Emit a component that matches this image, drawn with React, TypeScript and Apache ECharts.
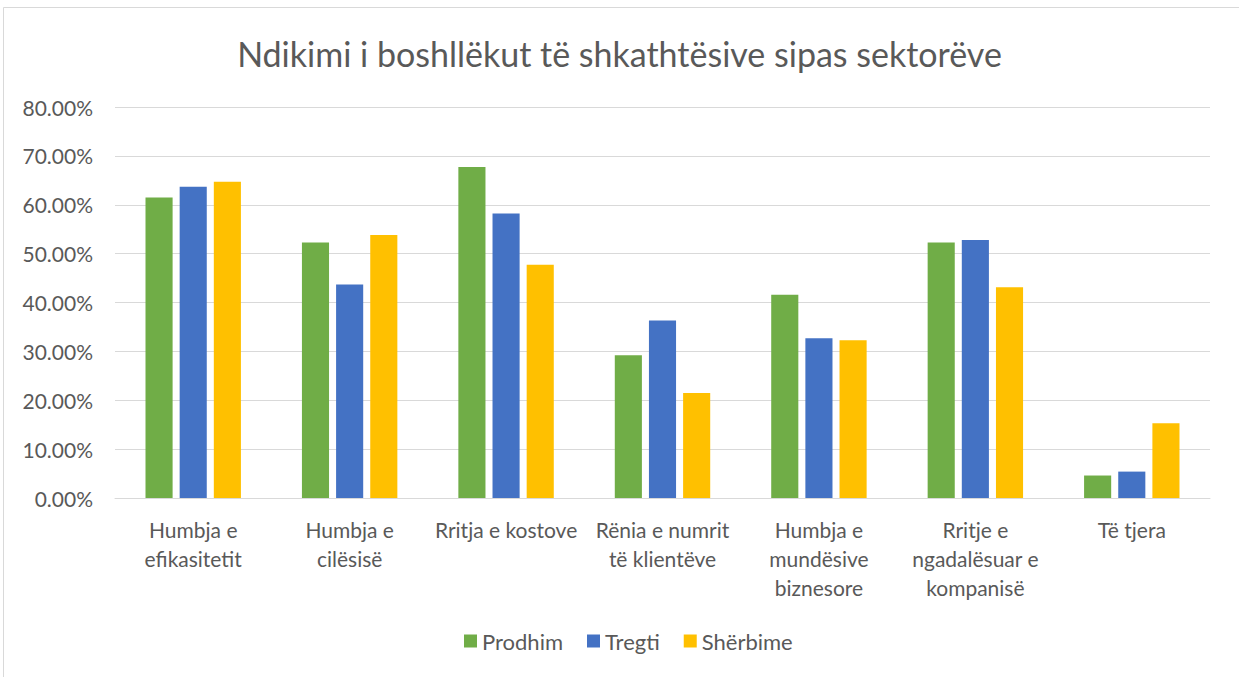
import React, { useEffect, useRef } from "react";
import * as echarts from "echarts";

const categories = [
  "Humbja e\nefikasitetit",
  "Humbja e\ncilësisë",
  "Rritja e kostove",
  "Rënia e numrit\ntë klientëve",
  "Humbja e\nmundësive\nbiznesore",
  "Rritje e\nngadalësuar e\nkompanisë",
  "Të tjera",
];
const prodhim = [61.5, 52.3, 67.7, 29.2, 41.6, 52.3, 4.6];
const tregti = [63.7, 43.7, 58.2, 36.3, 32.7, 52.8, 5.4];
const sherbime = [64.7, 53.8, 47.7, 21.5, 32.3, 43.1, 15.3];
const seriesNames = ["Prodhim", "Tregti", "Shërbime"];
const colors = ["#70AD47", "#4472C4", "#FFC000"];

const FONT = "Lato, 'Open Sans', sans-serif";
const TXT = "#595959";

export default function App() {
  const ref = useRef<HTMLDivElement>(null);
  useEffect(() => {
    if (!ref.current) return;
    const chart = echarts.init(ref.current, undefined, { renderer: "svg" });
    const data = [prodhim, tregti, sherbime];
    chart.setOption({
      animation: false,
      backgroundColor: "#ffffff",
      title: {
        text: "Ndikimi i boshllëkut të shkathtësive sipas sektorëve",
        left: "center",
        top: 31,
        textStyle: { fontFamily: FONT, fontSize: 34, fontWeight: "normal", color: TXT },
      },
      graphic: [
        {
          type: "rect",
          shape: { x: 3.5, y: 7.5, width: 1240, height: 680 },
          style: { fill: "none", stroke: "#d9d9d9", lineWidth: 1 },
          silent: true,
        },
      ],
      legend: {
        data: seriesNames,
        left: 459,
        top: 625,
        itemWidth: 13,
        itemHeight: 13,
        itemGap: 24,
        icon: "rect",
        textStyle: { fontFamily: FONT, fontSize: 22, color: TXT },
      },
      grid: { left: 115, right: 29, top: 107, bottom: 179, containLabel: false },
      xAxis: {
        type: "category",
        data: categories,
        axisLine: { lineStyle: { color: "#d9d9d9", width: 1 } },
        axisTick: { show: false },
        axisLabel: {
          interval: 0,
          fontFamily: FONT,
          fontSize: 21,
          color: TXT,
          lineHeight: 29,
          margin: 17,
          align: "center",
        },
      },
      yAxis: {
        type: "value",
        min: 0,
        max: 80,
        interval: 10,
        axisLine: { show: false },
        axisTick: { show: false },
        splitLine: { lineStyle: { color: "#d9d9d9", width: 1 } },
        axisLabel: {
          fontFamily: FONT,
          fontSize: 21,
          color: TXT,
          margin: 22,
          formatter: (v: number) => v.toFixed(2) + "%",
        },
      },
      series: seriesNames.map((name, i) => ({
        name,
        type: "bar",
        data: data[i],
        itemStyle: { color: colors[i] },
        barGap: "26%",
        barCategoryGap: "39%",
      })),
    });
    return () => chart.dispose();
  }, []);
  return (
    <div
      ref={ref}
      style={{ position: "absolute", left: 0, top: 0, width: 1239, height: 677 }}
    />
  );
}
